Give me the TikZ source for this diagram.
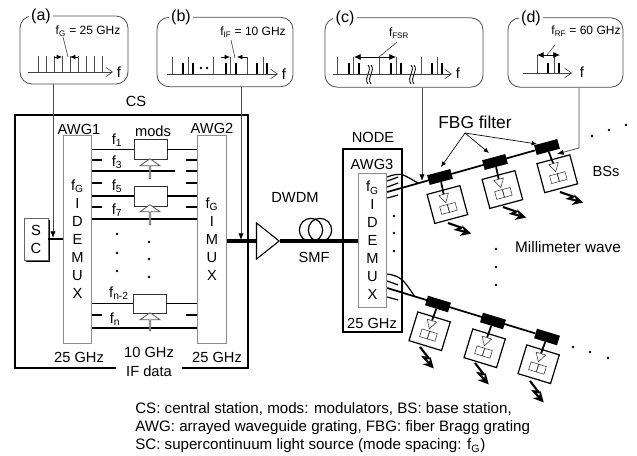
\documentclass[tikz,border=0pt]{standalone}
\usepackage{fontspec}
\setmainfont{Liberation Sans}
\usetikzlibrary{arrows.meta,shapes.geometric,shapes.arrows,shadows}
\tikzset{
	inset/.style={draw=black!70, rounded corners=9pt, line width=0.6pt, minimum height=51pt},
	insetlabel/.style={fill=white, inner sep=2pt, font=\fontsize{12}{14}\selectfont},
	small/.style={inner sep=0pt, font=\fontsize{9}{11}\selectfont},
	plain/.style={inner sep=0pt, font=\fontsize{11}{13.5}\selectfont},
	caption/.style={inner sep=0pt, anchor=west, font=\fontsize{11.35}{13.5}\selectfont},
	block/.style={draw=black!45, fill=white, line width=0.6pt, minimum width=21.5pt, inner sep=0pt, align=center, font=\fontsize{11}{13.5}\selectfont},
	modbox/.style={draw=black!80, fill=white, line width=0.6pt, minimum width=24.75pt, minimum height=15pt, inner sep=0pt},
	uparrow/.style={single arrow, draw=black!65, fill=white, line width=0.6pt, rotate=90, minimum height=15pt, minimum width=15pt, single arrow head extend=3.75pt, single arrow tip angle=110, inner sep=0pt},
	chan/.style={line width=1.3pt},
	fiberline/.style={line width=2.4pt},
	tap/.style={line width=0.6pt, draw=black!70, -{Latex[length=5pt,width=4pt,black]}},
	axis/.style={line width=0.5pt, black!75, -{Straight Barb[length=5pt,width=7pt]}},
	tone/.style={line width=0.5pt, black!70},
	bar/.style={line width=2.2pt},
	span/.style={line width=0.5pt, -{Latex[length=4pt,width=3.5pt]}},
	fbg/.style={fill=black, minimum width=18pt, minimum height=7.5pt, inner sep=0pt},
	bsbox/.style={draw, fill=white, line width=0.9pt, minimum width=25.5pt, minimum height=22.5pt, inner sep=0pt},
	antenna/.style={regular polygon, regular polygon sides=3, shape border rotate=180, draw=black!80, fill=white, line width=0.4pt, minimum size=8.6pt, inner sep=0pt},
	sqbox/.style={draw=black!80, line width=0.4pt, minimum size=6pt, inner sep=0pt},
	bolt/.style={line width=1.6pt, -{Stealth[length=8pt,width=8pt]}},
	spot/.style={circle, fill=black, minimum size=2.2pt, inner sep=0pt},
}
\begin{document}
\begin{tikzpicture}[x=0.75pt, y=-0.75pt]
	\useasboundingbox (0,0) rectangle (637,455);

	% insets
	\node[inset, minimum width=81pt] (insetA) at (74,50) {};
	\node[inset, minimum width=102pt, minimum height=52pt] (insetB) at (225,52) {};
	\node[inset, minimum width=118.5pt, minimum height=52pt] (insetC) at (404,52.5) {};
	\node[inset, minimum width=86.25pt, minimum height=52pt] (insetD) at (565.5,52.5) {};
	\node[insetlabel] (labA) at (41,16) {(a)};
	\node[insetlabel] (labB) at (181,17) {(b)};
	\node[insetlabel] (labC) at (345,18) {(c)};
	\node[insetlabel] (labD) at (531,18) {(d)};
	\node[small] (fA) at (88,31) {f\textsubscript{G} = 25 GHz};
	\node[small] (fB) at (253,32) {f\textsubscript{IF} = 10 GHz};
	\node[small] (fC) at (399,33) {f\textsubscript{FSR}};
	\node[small] (fD) at (586,31) {f\textsubscript{RF} = 60 GHz};

	% spectra
	\draw[axis] (28,72) -- (113,72);
	\foreach \x in {38,46,54,62,70,78,86,94,102} \draw[tone] (\x,72) -- (\x,56);
	\draw[span] (54,57) -- (62,57);
	\draw[span] (78,57) -- (70,57);
	\draw[tone] (63,37) -- (68,57);
	\node[plain] (axA) at (119,72) {f};

	\draw[axis] (167,74) -- (278,74);
	\foreach \x in {172,188,213,230,247,263} \draw[tone] (\x,74) -- (\x,57);
	\foreach \x in {183,193,226,236,257,267} \draw[bar] (\x,74) -- (\x,63);
	\draw[span] (221,57) -- (230,57);
	\draw[span] (247,57) -- (237,57);
	\draw[tone] (231,40) -- (235,58);
	\node[spot] (gapB1) at (201,68) {};
	\node[spot] (gapB2) at (207,68) {};
	\node[plain] (axB) at (284,74) {f};

	\draw[axis] (333,74) -- (452,74);
	\foreach \x in {337,353,379,396,421,437} \draw[tone] (\x,74) -- (\x,57);
	\foreach \x in {349,359,391,401,432,442} \draw[bar] (\x,74) -- (\x,63);
	\draw[span, {Latex[length=5pt,width=4.5pt]}-{Latex[length=5pt,width=4.5pt]}] (354,57) -- (396,57);
	\draw[tone] (379,57) -- (397,42);
	\foreach \x in {368,371,411,414}
		\draw[line width=0.6pt] (\x,65) .. controls (\x+5,71) and (\x-5,77) .. (\x,84);
	\node[plain] (axC) at (458,73) {f};

	\draw[axis] (523,73) -- (572,73);
	\foreach \x in {537,554} \draw[tone] (\x,73) -- (\x,55);
	\foreach \x in {548,559} \draw[bar] (\x,73) -- (\x,63);
	\draw[span, {Latex[length=5pt,width=4.5pt]}-{Latex[length=5pt,width=4.5pt]}] (537,55) -- (560,55);
	\draw[tone] (547,55) -- (555,45);
	\node[plain] (axD) at (582,72) {f};

	% central station
	\node[draw, line width=0.9pt, minimum width=174.75pt, minimum height=189.75pt, inner sep=0pt] (cs) at (131.5,241.5) {};
	\node[fill=white, minimum width=49.5pt, minimum height=6pt, inner sep=0pt] (gap) at (149,368) {};
	\node[plain] (csname) at (136,101) {CS};
	\node[plain] (ifdata) at (149,371) {IF data};
	\node[plain] (ifrate) at (149,352) {10 GHz};
	\node[block, minimum height=156pt] (awg1) at (77.5,239) {f\textsubscript{G}\\I\\D\\E\\M\\U\\X};
	\node[block, minimum height=156pt] (awg2) at (212,239) {f\textsubscript{G}\\I\\M\\U\\X};
	\node[plain] (awg1name) at (79,129) {AWG1};
	\node[plain] (awg2name) at (212,128) {AWG2};
	\node[plain] (rate1) at (79,357) {25 GHz};
	\node[plain] (rate2) at (217,357) {25 GHz};
	\node[block, draw=black!60, minimum width=18pt, minimum height=31.5pt, drop shadow={shadow xshift=1.7pt, shadow yshift=-1.7pt, opacity=1, fill=black}] (sc) at (36,239) {S\\C};

	\node[modbox] (mod1) at (150.5,149.5) {};
	\node[modbox] (mod2) at (150.5,196) {};
	\node[modbox, minimum height=14.25pt] (mod3) at (149.5,303.5) {};
	\node[plain] (modsname) at (153,131) {mods};
	\foreach \m in {1,2,3} {
		\draw[chan] (mod\m -| awg1.east) -- (mod\m);
		\draw[chan] (mod\m -| awg2.west) -- (mod\m);
	}
	\draw[chan] (awg1.east |- 0,171) -- (175,171);
	\draw[chan] (awg1.east |- 0,219) -- (awg2.west |- 0,219);
	\draw[chan] (awg1.east |- 0,328) -- (awg2.west |- 0,328);
	\foreach \y in {160,183,207,315} \draw[chan] (awg1.east |- 0,\y) -- +(10,0);
	\foreach \y in {160,171,183,207,315} \draw[chan] (awg2.west |- 0,\y) -- +(-11,0);
	\node[uparrow] (up1) at (150,169) {};
	\node[uparrow] (up2) at (150,215) {};
	\node[uparrow, minimum height=13.5pt] (up3) at (150,322) {};
	\node[plain, fill=white, inner sep=1pt] (f1) at (117,140) {f\textsubscript{1}};
	\node[plain] (f3) at (117,162) {f\textsubscript{3}};
	\node[plain] (f5) at (117,186) {f\textsubscript{5}};
	\node[plain] (f7) at (117,210) {f\textsubscript{7}};
	\node[plain] (fn2) at (119,293) {f\textsubscript{n-2}};
	\node[plain] (fn) at (115,319) {f\textsubscript{n}};
	\foreach \y in {234,253,271} \node[spot] (dotL\y) at (117,\y) {};
	\foreach \y in {242,259,277} \node[spot] (dotR\y) at (149,\y) {};
	\draw[chan] (sc) -- (sc -| awg1.west);

	% link
	\node[draw, line width=0.8pt, fill=white, isosceles triangle, isosceles triangle apex angle=77, minimum height=17pt, inner sep=0pt, anchor=apex] (amp) at (280,241) {};
	\node[circle, draw, line width=0.9pt, minimum size=17.5pt, inner sep=0pt] (coilL) at (311,230) {};
	\node[circle, draw, line width=0.9pt, minimum size=17.5pt, inner sep=0pt] (coilR) at (320,230) {};
	\node[plain] (dwdm) at (295,197) {DWDM};
	\node[plain] (smf) at (314,257) {SMF};

	% node
	\node[draw, line width=0.9pt, minimum width=44.25pt, minimum height=137.25pt, inner sep=0pt] (node) at (372.5,240.5) {};
	\node[block, minimum height=101pt] (awg3) at (372.5,240.5) {f\textsubscript{G}\\I\\D\\E\\M\\U\\X};
	\node[plain] (nodename) at (373,137) {NODE};
	\node[plain] (awg3name) at (372,164) {AWG3};
	\node[plain] (rate3) at (372,323) {25 GHz};
	\draw[fiberline] (amp.west -| awg2.east) -- (amp.west);
	\draw[fiberline] (amp.apex) -- (amp.apex -| awg3.west);
	\foreach \y in {216,233,251} \node[spot] (dotN\y) at (394,\y) {};

	% base stations
	\foreach \n/\fx/\fy/\tilt/\off in {1/440/177/15/0, 2/495/162/15/0, 3/547/147/15/3, 4/438/304/-17/0, 5/493/321/-17/0, 6/547/337/-17/0} {
		\begin{scope}[shift={(\fx,\fy)}, rotate=\tilt, transform shape]
			\node[bsbox] (bs\n) at (\off,28.5) {};
			\node[antenna] (ant\n) at (\off-1,20.5) {};
			\node[sqbox] (sqL\n) at (\off-4,32.5) {};
			\node[sqbox] (sqR\n) at (\off+4,32.5) {};
			\node[fbg] (fbg\n) at (0,0) {};
		\end{scope}
		\draw[chan] (fbg\n) -- (ant\n);
	}
	\draw[chan] (awg3.east |- 0,192) -- (fbg3);
	\draw[chan] (awg3.east |- 0,288) -- (fbg6);
	\draw[line width=0.9pt] (awg3.east |- 0,177) .. controls (402,171) and (405,176) .. (418,183);
	\draw[line width=0.9pt] (awg3.east |- 0,274) .. controls (402,276) and (405,282) .. (415,297);
	\draw[line width=0.9pt] (awg3.east |- 0,181) -- +(11,-4);
	\draw[line width=0.9pt] (awg3.east |- 0,187) -- +(11,-4);
	\draw[line width=0.9pt] (awg3.east |- 0,198) -- +(11,-3);
	\draw[line width=0.9pt] (awg3.east |- 0,281) -- +(11,4);
	\draw[line width=0.9pt] (awg3.east |- 0,297) -- +(11,3);
	\foreach \x/\y/\r in {448/223/-13, 503/207/-13, 560/192/-13, 420/347/-46, 475/363/-46, 530/381/-46}
		\draw[bolt, shift={(\x,\y)}, rotate=\r] (0,0) -- (14,1.5) -- (10,4.5) -- (25,5);

	% tap lines
	\coordinate (tapA) at (53,238);
	\coordinate (tapB) at (241,240);
	\coordinate (tapC) at (422,181);
	\coordinate (bendD) at (579,148);
	\coordinate (tapD) at (557,154);
	\draw[tap] (tapA |- insetA.south) -- (tapA);
	\draw[tap] (tapB |- insetB.south) -- (tapB);
	\draw[tap] (tapC |- insetC.south) -- (tapC);
	\draw[tap] (bendD |- insetD.south) -- (bendD) -- (tapD);

	\node[plain, font=\fontsize{13}{15}\selectfont] (fbgname) at (475,122) {FBG filter};
	\coordinate (fbgfan) at (465,133);
	\draw[span] (fbgfan) -- (441,167);
	\draw[span] (fbgfan) -- (489,153);
	\draw[span] (fbgfan) -- (537,144);
	\node[plain] (bsname) at (606,171) {BSs};
	\node[plain, font=\fontsize{11.5}{13.5}\selectfont] (mmname) at (568,247) {Millimeter wave};
	\foreach \x/\y [count=\i] in {592/136, 609/130, 626/125, 573/347, 590/352, 608/358, 496/249, 496/267, 496/285}
		\node[spot] (dotB\i) at (\x,\y) {};

	% caption
	\node[caption] (capA) at (135,409) {CS: central station, mods: modulators, BS: base station,};
	\node[caption] (capB) at (135,428) {AWG: arrayed waveguide grating, FBG: fiber Bragg grating};
	\node[caption] (capC) at (135,446) {SC: supercontinuum light source (mode spacing: f\textsubscript{G})};
\end{tikzpicture}
\end{document}
